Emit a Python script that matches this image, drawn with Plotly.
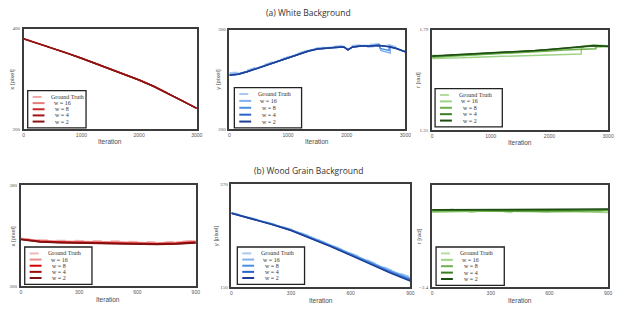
import plotly.graph_objects as go

W, H = 623, 313

SERIES = ["Ground Truth", "w = 16", "w = 8", "w = 4", "w = 2"]

# ---------------- (a) White background ----------------
p1_iter = [0, 250, 500, 750, 1000, 1250, 1500, 1750, 2000, 2250, 2500, 2750, 3000]
p1_gt = [380, 371, 361.5, 351.5, 341.5, 331, 320.5, 309.5, 298, 285.5, 271.5, 256.5, 241.5]
p1_w16 = [380.5, 371, 361, 351, 341, 330.5, 320, 309, 297.5, 285, 271, 256, 241]
p1_w8 = [379.5, 370.5, 361, 351, 341, 330.5, 320, 309, 297.5, 285, 271, 256, 241]
p1_w4 = [379.5, 370.5, 361, 351, 341, 330.5, 320, 309, 297.5, 285, 271, 256, 241]
p1_w2 = [379.5, 370.5, 361, 351, 341, 330.5, 320, 309, 297.5, 285, 271, 256, 241]

p2_iter_gt = [0, 150, 300, 450, 600, 750, 900, 1050, 1200, 1350, 1500, 1650, 1800, 1950, 2100,
              2250, 2400, 2550, 2700, 2850, 3000]
p2_gt = [256.5, 257, 259, 262, 265, 268, 271, 274, 277, 279.5, 281.5, 282.5, 283, 284, 284,
         284.5, 285, 285.5, 285, 282.5, 278.5]
p2_iter_w16 = [0, 150, 300, 450, 600, 750, 900, 1050, 1200, 1350, 1500, 1650, 1800, 1950, 2020,
               2100, 2250, 2350, 2360, 2450, 2450, 2550, 2560, 2580, 2740, 2745, 2850, 3000]
p2_w16 = [255, 255.5, 258, 261, 264, 267, 270, 273.5, 276.5, 279, 281, 282, 282.5, 283, 280,
          282.5, 284, 284, 282.5, 282.8, 284.5, 285.5, 285, 279, 276.5, 283, 281, 277.5]
p2_iter_w8 = [0, 150, 300, 450, 600, 750, 900, 1050, 1200, 1350, 1500, 1650, 1800, 1950, 2020,
              2100, 2250, 2400, 2550, 2570, 2720, 2730, 2850, 3000]
p2_w8 = [254.5, 255, 257.5, 260.5, 263.5, 266.5, 269.5, 273, 276, 278.5, 280.5, 281.5, 282, 282.5, 279.5,
         282.5, 283.5, 283.5, 284.5, 281, 279, 283.5, 281, 277.5]
p2_iter_w4 = [0, 150, 300, 450, 600, 750, 900, 1050, 1200, 1350, 1500, 1650, 1800, 1950, 2020,
              2100, 2250, 2400, 2550, 2700, 2850, 3000]
p2_w4 = [254, 255, 257.5, 260.5, 263.5, 266.5, 269.5, 273, 276, 278.5, 280.5, 281.5, 282, 282.5, 279.5,
         282.5, 283.5, 283.5, 284, 283, 281, 277.5]
p2_iter_w2 = [0, 150, 300, 450, 600, 750, 900, 1050, 1200, 1350, 1500, 1650, 1800, 1950, 2020,
              2100, 2250, 2400, 2550, 2700, 2850, 3000]
p2_w2 = [254, 255, 257.5, 260.5, 263.5, 266.5, 269.5, 273, 276, 278.5, 280.5, 281.5, 282, 282.5, 279.5,
         282.5, 283.5, 283.5, 284, 283, 281, 277.5]

p3_iter_gt = [0, 150, 300, 450, 600, 750, 900, 1050, 1200, 1350, 1500, 1650, 1800, 1950, 2100,
              2250, 2400, 2550, 2700, 2850, 3000]
p3_gt = [1.677, 1.675, 1.681, 1.678, 1.683, 1.680, 1.686, 1.684, 1.690, 1.688, 1.694, 1.692, 1.699,
         1.700, 1.704, 1.706, 1.711, 1.710, 1.717, 1.714, 1.712]
p3_iter_w16 = [0, 250, 500, 750, 1000, 1250, 1500, 1750, 2000, 2250, 2540, 2550, 2750, 2760, 3000]
p3_w16 = [1.663, 1.663, 1.666, 1.669, 1.671, 1.673, 1.676, 1.678, 1.680, 1.681, 1.683, 1.716, 1.720,
          1.722, 1.719]
p3_iter_w8 = [0, 250, 500, 750, 1000, 1250, 1500, 1750, 2000, 2250, 2500, 2790, 2800, 3000]
p3_w8 = [1.669, 1.672, 1.675, 1.678, 1.682, 1.685, 1.688, 1.692, 1.696, 1.700, 1.703, 1.706, 1.716,
         1.716]
p3_iter_w4 = [0, 250, 500, 750, 1000, 1250, 1500, 1750, 2000, 2250, 2500, 2750, 3000]
p3_w4 = [1.673, 1.676, 1.679, 1.682, 1.686, 1.689, 1.693, 1.697, 1.702, 1.707, 1.713, 1.718, 1.716]
p3_iter_w2 = [0, 250, 500, 750, 1000, 1250, 1500, 1750, 2000, 2250, 2500, 2750, 3000]
p3_w2 = [1.674, 1.677, 1.680, 1.683, 1.687, 1.690, 1.694, 1.698, 1.703, 1.708, 1.714, 1.720, 1.717]

# ---------------- (b) Wood grain background ----------------
p4_iter = [0, 100, 200, 300, 400, 500, 600, 700, 800, 900]
p4_gt = [338, 336.8, 336.3, 336.2, 336, 335.8, 335.3, 335, 335.3, 336.3]
p4_w16 = [337.6, 336.2, 335.7, 335.6, 335.4, 335.1, 334.6, 334.3, 334.8, 335.8]
p4_w8 = [337.3, 335.6, 335.1, 334.9, 334.7, 334.4, 333.9, 333.6, 334.1, 335.1]
p4_w4 = [337.1, 335.3, 334.7, 334.5, 334.3, 334.0, 333.5, 333.2, 333.6, 334.5]
p4_w2 = [337.0, 335.1, 334.5, 334.3, 334.1, 333.8, 333.3, 333.0, 333.4, 334.3]

p5_iter = [0, 100, 200, 300, 400, 500, 600, 700, 800, 900]
p5_gt = [237, 231, 224.5, 217.5, 209, 199.5, 190, 180, 170.5, 162]
p5_w16 = [236.5, 230.5, 224, 217, 208.5, 199, 189.5, 179.5, 169.5, 161]
p5_w8 = [236.3, 230.2, 223.7, 216.7, 208, 198.5, 188.5, 178.5, 168.5, 159.5]
p5_w4 = [236, 230, 223.5, 216.3, 207.5, 197.8, 187.8, 177.5, 167.3, 158.2]
p5_w2 = [236, 229.8, 223.2, 216, 207, 197.3, 187.2, 176.8, 166.5, 157.3]

p6_iter = [0, 100, 200, 300, 400, 500, 600, 700, 800, 900]
p6_gt = [-1.806, -1.790, -1.812, -1.800, -1.814, -1.803, -1.812, -1.798, -1.813, -1.802]
p6_w16 = [-1.812, -1.808, -1.805, -1.802, -1.800, -1.800, -1.804, -1.808, -1.812, -1.814]
p6_w8 = [-1.803, -1.801, -1.802, -1.804, -1.806, -1.808, -1.808, -1.806, -1.803, -1.799]
p6_w4 = [-1.797, -1.795, -1.796, -1.797, -1.799, -1.800, -1.799, -1.797, -1.795, -1.792]
p6_w2 = [-1.793, -1.792, -1.791, -1.791, -1.790, -1.790, -1.789, -1.789, -1.788, -1.787]

REDS_A = ["#f2a8a8", "#e57b7b", "#c62828", "#a31515", "#8b1414"]
REDS_B = ["#f4b8b8", "#e88c8c", "#d40000", "#9c0a0a", "#7c1212"]
BLUES = ["#a9c9f1", "#80b1ec", "#4a8ee0", "#2a62c8", "#1f3f96"]
GREENS = ["#b6dca2", "#9ed285", "#6cb04a", "#3a7d22", "#1e4d12"]

panels = [
    dict(data=[(p1_iter, p1_gt), (p1_iter, p1_w16), (p1_iter, p1_w8), (p1_iter, p1_w4), (p1_iter, p1_w2)],
         colors=REDS_A, xr=[0, 3000], xt=[0, 1000, 2000, 3000], yr=[200, 400], yt=[200, 400],
         ytitle="x [pixel]", box=(23, 27, 198, 129), leg=(27, 90, 86, 128), yt_x=11),
    dict(data=[(p2_iter_gt, p2_gt), (p2_iter_w16, p2_w16), (p2_iter_w8, p2_w8), (p2_iter_w4, p2_w4),
               (p2_iter_w2, p2_w2)],
         colors=BLUES, xr=[0, 3000], xt=[0, 1000, 2000, 3000], yr=[200, 300], yt=[200, 300],
         ytitle="y [pixel]", box=(231, 28, 409, 129), leg=(236, 87, 304, 128), yt_x=220),
    dict(data=[(p3_iter_gt, p3_gt), (p3_iter_w16, p3_w16), (p3_iter_w8, p3_w8), (p3_iter_w4, p3_w4),
               (p3_iter_w2, p3_w2)],
         colors=GREENS, xr=[0, 3000], xt=[0, 1000, 2000, 3000], yr=[1.35, 1.79], yt=[1.35, 1.79],
         ytitle="r [rad]", box=(436, 28, 614, 130), leg=(439, 88, 507, 127), yt_x=421),
    dict(data=[(p4_iter, p4_gt), (p4_iter, p4_w16), (p4_iter, p4_w8), (p4_iter, p4_w4), (p4_iter, p4_w2)],
         colors=REDS_B, xr=[0, 900], xt=[0, 300, 600, 900], yr=[300, 380], yt=[300, 380],
         ytitle="x [pixel]", box=(20, 186, 197, 289), leg=(24, 249, 92, 287), yt_x=12),
    dict(data=[(p5_iter, p5_gt), (p5_iter, p5_w16), (p5_iter, p5_w8), (p5_iter, p5_w4), (p5_iter, p5_w2)],
         colors=BLUES, xr=[0, 900], xt=[0, 300, 600, 900], yr=[150, 270], yt=[150, 270],
         ytitle="y [pixel]", box=(233, 185, 414, 290), leg=(239, 249, 307, 287), yt_x=217),
    dict(data=[(p6_iter, p6_gt), (p6_iter, p6_w16), (p6_iter, p6_w8), (p6_iter, p6_w4), (p6_iter, p6_w2)],
         colors=GREENS, xr=[0, 900], xt=[0, 300, 600, 900], yr=[-2.4, -1.6], yt=[-2.4],
         ytitle="r [rad]", box=(436, 186, 614, 290), leg=(440, 249, 509, 288), yt_x=423),
]


def px(x):
    return x / W


def py(y):
    return 1 - y / H


fig = go.Figure()
shapes = []
annotations = []
layout = {}

for i, p in enumerate(panels, start=1):
    xa = "x" if i == 1 else f"x{i}"
    ya = "y" if i == 1 else f"y{i}"
    x0, y0, x1, y1 = p["box"]
    # traces: GT first, then w = 16 ... w = 2
    for k, ((xs, ys), name, col) in enumerate(zip(p["data"], SERIES, p["colors"])):
        fig.add_trace(go.Scatter(
            x=xs, y=ys, mode="lines", name=name, showlegend=False,
            line=dict(color=col, width=1.5, dash="dash" if k == 0 else "solid"),
            xaxis=xa, yaxis=ya))
    common = dict(showline=True, mirror=True, linecolor="#3c3c3c", linewidth=1.5,
                  showgrid=False, zeroline=False, ticks="", fixedrange=True)
    layout["xaxis" if i == 1 else f"xaxis{i}"] = dict(
        common, domain=[px(x0), px(x1)], range=p["xr"], tickvals=p["xt"],
        anchor=ya, tickfont=dict(size=5, color="#555555", family="Liberation Sans"))
    layout["yaxis" if i == 1 else f"yaxis{i}"] = dict(
        common, domain=[py(y1), py(y0)], range=p["yr"], tickvals=p["yt"],
        anchor=xa, ticklabelstandoff=1,
        tickfont=dict(size=5, color="#555555", family="Liberation Serif"))
    # axis titles
    annotations.append(dict(text="Iteration", x=px((x0 + x1) / 2), y=py(y1 + 13), xref="paper",
                            yref="paper", showarrow=False, xanchor="center", yanchor="middle",
                            font=dict(size=6.5, color="#4a4a4a", family="Liberation Sans")))
    annotations.append(dict(text=p["ytitle"], x=px(p["yt_x"]), y=py((y0 + y1) / 2), xref="paper",
                            yref="paper", showarrow=False, textangle=-90, xanchor="center",
                            yanchor="middle", font=dict(size=6, color="#4a4a4a", family="Liberation Sans")))
    # legend box
    lx0, ly0, lx1, ly1 = p["leg"]
    shapes.append(dict(type="rect", xref="paper", yref="paper", x0=px(lx0), x1=px(lx1),
                       y0=py(ly1), y1=py(ly0), line=dict(color="#222222", width=1.3),
                       fillcolor="white", layer="above"))
    step = (ly1 - ly0 - 13) / 4
    for k, (name, col) in enumerate(zip(SERIES, p["colors"])):
        ry = ly0 + 6.5 + k * step
        shapes.append(dict(type="line", xref="paper", yref="paper", x0=px(lx0 + 5), x1=px(lx0 + 17),
                           y0=py(ry), y1=py(ry), layer="above",
                           line=dict(color=col, width=2, dash="dash" if k == 0 else "solid")))
        if k == 0:
            annotations.append(dict(text=name, x=px(lx0 + 22), y=py(ry), xref="paper", yref="paper",
                                    showarrow=False, xanchor="left", yanchor="middle",
                                    font=dict(size=6, color="#333333", family="Liberation Serif")))
        else:
            annotations.append(dict(text=name, x=px(lx0 + 35), y=py(ry), xref="paper", yref="paper",
                                    showarrow=False, xanchor="center", yanchor="middle",
                                    font=dict(size=6, color="#333333", family="Liberation Serif")))

annotations.append(dict(text="(a) White Background", x=px(311), y=py(10.5), xref="paper", yref="paper",
                        showarrow=False, xanchor="center", yanchor="middle",
                        font=dict(size=8.5, color="#333333", family="Open Sans")))
annotations.append(dict(text="(b) Wood Grain Background", x=px(311), y=py(171.5), xref="paper",
                        yref="paper", showarrow=False, xanchor="center", yanchor="middle",
                        font=dict(size=8.5, color="#333333", family="Open Sans")))

fig.update_layout(
    width=W, height=H, margin=dict(l=0, r=0, t=0, b=0),
    paper_bgcolor="white", plot_bgcolor="white", showlegend=False,
    shapes=shapes, annotations=annotations, **layout)

fig.write_html("out.html", config={"displayModeBar": False},
               post_script="document.body.style.margin='0px';document.body.style.overflow='hidden';")
